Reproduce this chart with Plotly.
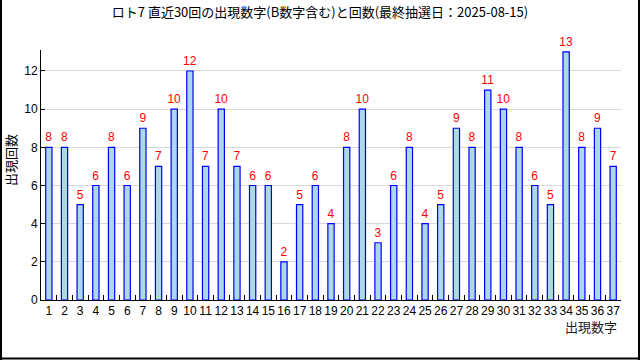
import plotly.graph_objects as go

numbers = [str(i) for i in range(1, 38)]
counts = [8, 8, 5, 6, 8, 6, 9, 7, 10, 12, 7, 10, 7, 6, 6, 2, 5, 6, 4, 8,
          10, 3, 6, 8, 4, 5, 9, 8, 11, 10, 8, 6, 5, 13, 8, 9, 7]
y_ticks = [0, 2, 4, 6, 8, 10, 12]

title_text = "ロト7 直近30回の出現数字(B数字含む)と回数(最終抽選日：2025-08-15)"

W, H = 640, 360
L, R, T, B = 41, 19, 50, 60
pw, ph = W - L - R, H - T - B

def px(x):
    return (x - L) / pw

def py(y):
    return (H - B - y) / ph

fig = go.Figure(go.Bar(
    x=numbers, y=counts, width=0.4,
    marker=dict(color="#add8e6", line=dict(color="blue", width=1.2)),
    text=[str(c) for c in counts], textposition="outside", cliponaxis=False,
    constraintext="none", hoverinfo="skip",
    textfont=dict(color="red", size=12, family="Liberation Sans"),
))

fig.update_layout(
    width=W, height=H,
    margin=dict(l=L, r=R, t=T, b=B, autoexpand=False),
    paper_bgcolor="white", plot_bgcolor="white",
    showlegend=False,
    font=dict(family="Liberation Sans", size=11, color="black"),
    title=dict(text=title_text, xref="container", x=0.5, xanchor="center",
               y=1 - 12 / H, yanchor="middle",
               font=dict(family="Noto Sans CJK JP", size=13, color="black")),
    bargap=0.6,
)
fig.update_xaxes(
    type="category", tickson="boundaries", ticks="inside", ticklen=5,
    tickcolor="black", showline=True, linecolor="black", linewidth=1,
    showgrid=False, tickangle=0, tickfont=dict(size=12), automargin=False,
    range=[-0.5, 36.5],
)
fig.update_yaxes(
    range=[0, 13.1], tickvals=y_ticks, ticks="inside", ticklen=4,
    tickcolor="black", showline=True, linecolor="black", linewidth=1,
    showgrid=True, gridcolor="#d8d8d8", zeroline=False, automargin=False,
    tickfont=dict(size=12),
)

fig.add_annotation(text="出現回数", xref="paper", yref="paper",
                   x=px(10), y=py(160), textangle=-90, showarrow=False,
                   xanchor="center", yanchor="middle",
                   font=dict(family="Noto Sans CJK JP", size=13, color="black"))
fig.add_annotation(text="出現数字", xref="paper", yref="paper",
                   x=px(619), y=py(326), showarrow=False,
                   xanchor="right", yanchor="middle",
                   font=dict(family="Noto Sans CJK JP", size=13, color="#222"))

# outer frame (left, right, bottom)
for x0, y0, x1, y1 in [(1, 0, 1, 360), (639, 0, 639, 360), (0, 358.5, 640, 358.5)]:
    fig.add_shape(type="line", xref="paper", yref="paper",
                  x0=px(x0), y0=py(y0), x1=px(x1), y1=py(y1),
                  line=dict(color="black", width=2), layer="above")

fig.write_html("out.html", config={"displayModeBar": False},
               post_script="document.body.style.margin='0';document.body.style.overflow='hidden';")
